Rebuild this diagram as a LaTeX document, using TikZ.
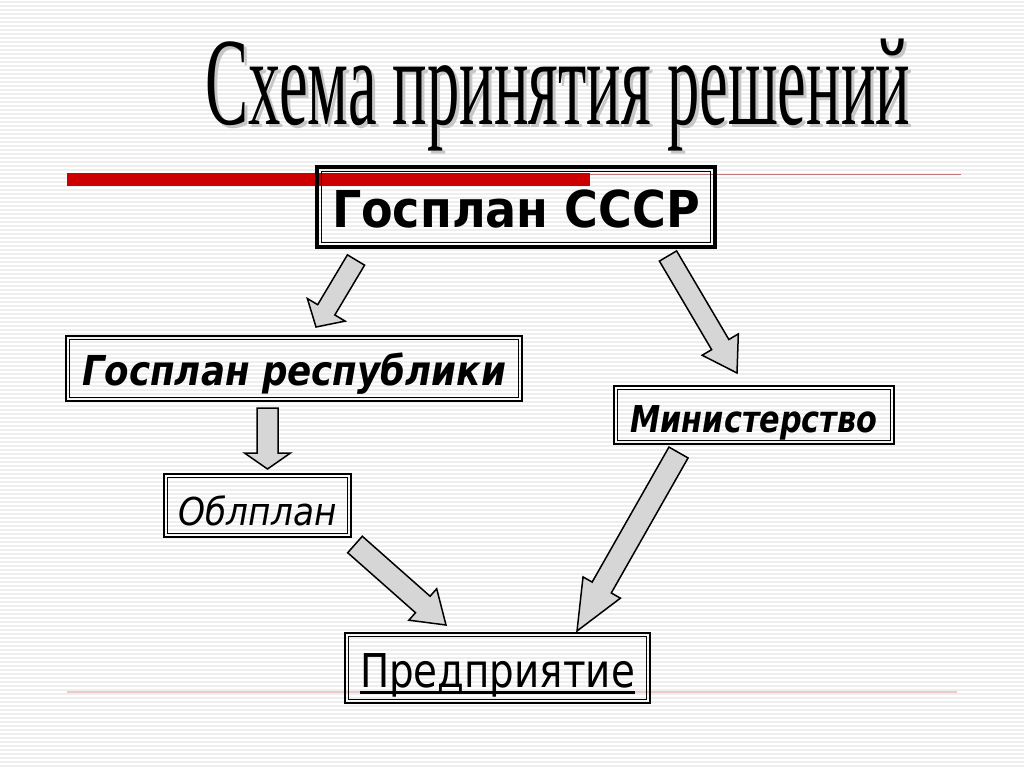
\documentclass[tikz,border=0pt]{standalone}
\usepackage{fontspec}
\usepackage{graphicx}
\usetikzlibrary{calc}
\newfontfamily\vfont{DejaVu Sans}
\newfontfamily\tfont{Liberation Serif}
\newsavebox\fitbox
\newsavebox\ulbox
\newcommand\fitx[2]{\sbox\fitbox{#2}\pgfmathsetmacro\fitfac{#1/\the\wd\fitbox}\scalebox{\fitfac}[1]{\usebox\fitbox}}
\newcommand\ulx[1]{\sbox\ulbox{#1}\rlap{\rule[-6.5pt]{\wd\ulbox}{3pt}}\usebox\ulbox}
\newcommand\titletext[1]{\fitx{705}{\tfont\fontsize{125pt}{125pt}\selectfont\color{#1}Схема принятия решений}}
\newcommand\shadowtitle{\rlap{\hspace{3pt}\raisebox{-3pt}{\titletext{gray!45}}}\titletext{black}}
% block arrow: start, tip, shaft half width, head half width, head length
\newcommand\blockarrow[5]{%
  \draw[blockarr] ($(#1)!#3!90:(#2)$)
    -- ($(#2)!#5!(#1)!#3!90:(#2)$)
    -- ($(#2)!#5!(#1)!#4!90:(#2)$)
    -- (#2)
    -- ($(#2)!#5!(#1)!#4!-90:(#2)$)
    -- ($(#2)!#5!(#1)!#3!-90:(#2)$)
    -- ($(#1)!#3!-90:(#2)$) -- cycle;}
\definecolor{barred}{HTML}{CC0000}
\definecolor{thinred}{HTML}{C07878}
\definecolor{pinkline}{HTML}{EDC9C9}
\definecolor{arrfill}{HTML}{D6D6D6}
\begin{document}
\begin{tikzpicture}[x=1pt,y=-1pt,
  stripe/.style={line width=1.6pt, draw=gray!13},
  boxa/.style={draw, line width=2pt, inner sep=0pt, outer sep=0pt},
  blockarr/.style={draw=black, line width=1.5pt, fill=arrfill, line join=miter},
  innerline/.style={line width=1pt}]
\useasboundingbox (0,0) rectangle (1024,767);
\fill[white] (0,0) rectangle (1024,767);
\foreach \i in {0,...,191} \draw[stripe] (0,\i*4+2) -- (1024,\i*4+2);
% rules
\fill[barred] (67,173) rectangle (590,186);
\draw[thinred, line width=1.5pt] (590,174.5) -- (961,174.5);
\draw[pinkline, line width=1.5pt] (67,692) -- (957,692);
% title with shadow
\node[anchor=base west, inner sep=0pt] (title) at (205,125) {\shadowtitle};
% boxes
\node[boxa, line width=4pt, minimum width=398pt, minimum height=80pt, text height=40pt, text depth=0pt] (gosplan) at (516,207)
  {\fitx{368}{\vfont\bfseries\fontsize{50.8pt}{60pt}\selectfont Госплан СССР}};
\draw[line width=1.5pt] ([shift={(4.5,4.5)}]gosplan.north west) rectangle ([shift={(-4.5,-4.5)}]gosplan.south east);
\node[boxa, minimum width=456pt, minimum height=65pt, text height=33pt, text depth=0pt] (resp) at (294,368.5)
  {\fitx{424}{\vfont\bfseries\itshape\fontsize{41.2pt}{50pt}\selectfont Госплан республики}};
\draw[innerline] ([shift={(3.5,3.5)}]resp.north west) rectangle ([shift={(-3.5,-3.5)}]resp.south east);
\node[boxa, minimum width=280pt, minimum height=58pt, text height=34pt, text depth=0pt] (minist) at (754,415)
  {\fitx{247}{\vfont\bfseries\itshape\fontsize{37pt}{45pt}\selectfont Министерство}};
\draw[innerline] ([shift={(3.5,3.5)}]minist.north west) rectangle ([shift={(-3.5,-3.5)}]minist.south east);
\node[boxa, minimum width=187pt, minimum height=63pt, text height=39pt, text depth=0pt] (obl) at (257.5,505.5)
  {\fitx{158}{\vfont\itshape\fontsize{38.4pt}{45pt}\selectfont Облплан}};
\draw[innerline] ([shift={(3.5,3.5)}]obl.north west) rectangle ([shift={(-3.5,-3.5)}]obl.south east);
\node[boxa, minimum width=305pt, minimum height=70pt, text height=38pt, text depth=0pt] (pred) at (497.5,668)
  {\fitx{275}{\ulx{\vfont\fontsize{46.6pt}{55pt}\selectfont Предприятие}}};
\draw[innerline] ([shift={(3.5,3.5)}]pred.north west) rectangle ([shift={(-3.5,-3.5)}]pred.south east);
% arrows
\coordinate (a1s) at (356,260); \coordinate (a1e) at (316,327);
\coordinate (a2s) at (668,256); \coordinate (a2e) at (737,373);
\coordinate (a3s) at (267.5,408); \coordinate (a3e) at (267.5,469);
\coordinate (a4s) at (355,544.5); \coordinate (a4e) at (446,625);
\coordinate (a5s) at (678.5,452.5); \coordinate (a5e) at (577,631);
\blockarrow{a1s}{a1e}{10pt}{22pt}{20pt}
\blockarrow{a2s}{a2e}{10pt}{21pt}{33pt}
\blockarrow{a3s}{a3e}{10.5pt}{23pt}{16pt}
\blockarrow{a4s}{a4e}{11pt}{21pt}{31pt}
\blockarrow{a5s}{a5e}{11pt}{21.5pt}{50pt}
\end{tikzpicture}
\end{document}
